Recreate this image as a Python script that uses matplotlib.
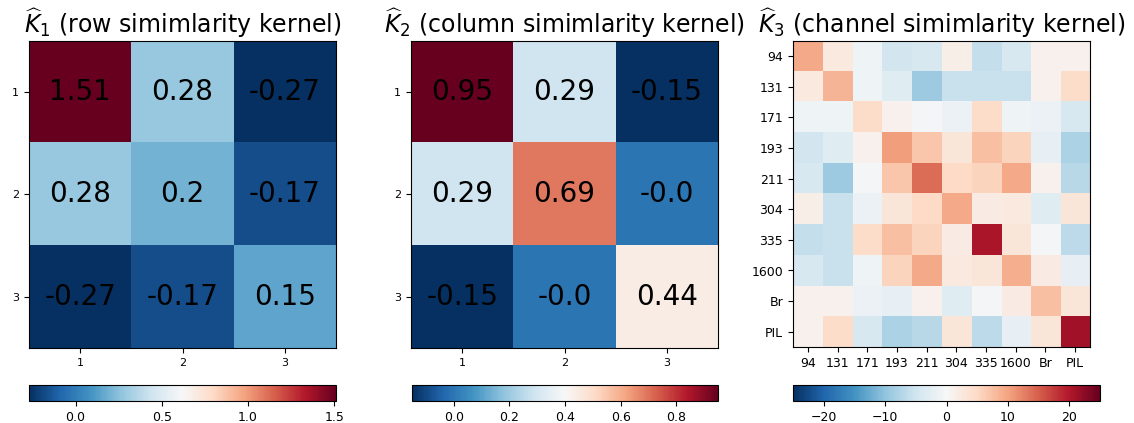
import numpy as np
import matplotlib
matplotlib.use('Agg')
import matplotlib.pyplot as plt

# kernel estimates
k1 = [[1.51, 0.28, -0.27],
      [0.28, 0.2, -0.17],
      [-0.27, -0.17, 0.15]]
k2 = [[0.95, 0.29, -0.15],
      [0.29, 0.69, -0.0],
      [-0.15, -0.0, 0.44]]
k3 = [[9.5, 2.5, -1, -4.5, -4, 1.5, -6, -4, 1, 1],
      [2.5, 8.5, -1, -3, -9, -5.5, -5.5, -5.5, 1, 4.5],
      [-1, -1, 4.5, 1, -0.5, -1.5, 4.5, -1, -1.5, -4],
      [-4.5, -3, 1, 10.5, 7, 3, 7.5, 5.5, -2, -8],
      [-4, -9, -0.5, 7, 14, 5, 5.5, 9.5, 1, -7],
      [1.5, -5.5, -1.5, 3, 5, 9.5, 2, 2.5, -3, 3],
      [-6, -5.5, 4.5, 7.5, 5.5, 2, 20.5, 3, -0.5, -6.5],
      [-4, -5.5, -1, 5.5, 9.5, 2.5, 3, 9, 2, -2],
      [1, 1, -1.5, -2, 1, -3, -0.5, 2, 7.5, 3],
      [1, 4.5, -4, -8, -7, 3, -6.5, -2, 3, 21]]
small_labels = ['1', '2', '3']
channels = ['94', '131', '171', '193', '211', '304', '335', '1600', 'Br', 'PIL']
titles = [r'$\widehat{K}_1$ (row simimlarity kernel)',
          r'$\widehat{K}_2$ (column simimlarity kernel)',
          r'$\widehat{K}_3$ (channel simimlarity kernel)']
cb_ticks = [[0.0, 0.5, 1.0, 1.5], [0.0, 0.2, 0.4, 0.6, 0.8], [-20, -10, 0, 10, 20]]

W, H = 1134, 423
fig = plt.figure(figsize=(W / 100, H / 100), dpi=100)

def box(x0, x1, y0, y1):
    return [x0 / W, 1 - y1 / H, (x1 - x0) / W, (y1 - y0) / H]

ax_pos = [box(29, 336, 41, 348), box(411, 718, 41, 348), box(793, 1090, 41, 347)]
cb_pos = [box(29, 336, 385, 401), box(412, 718, 385, 401), box(793, 1100, 385, 401)]

mats = [np.array(k1), np.array(k2), np.array(k3)]
norms = [(None, None), (None, None), (-25, 25)]
labels = [small_labels, small_labels, channels]

for i in range(3):
    ax = fig.add_axes(ax_pos[i])
    m = mats[i]
    vmin, vmax = norms[i]
    im = ax.imshow(m, cmap='RdBu_r', vmin=vmin, vmax=vmax, aspect='auto')
    n = len(labels[i])
    ax.set_xticks(range(n))
    ax.set_yticks(range(n))
    ax.set_xticklabels(labels[i], fontsize=9 if i == 2 else 8)
    ax.set_yticklabels(labels[i], fontsize=9 if i == 2 else 8)
    ax.set_title(titles[i], fontsize=17, pad=6)
    if i < 2:
        for r in range(n):
            for c in range(n):
                ax.text(c, r, str(round(m[r, c], 2)), ha='center', va='center',
                        fontsize=20, color='black')
    cax = fig.add_axes(cb_pos[i])
    cb = fig.colorbar(im, cax=cax, orientation='horizontal')
    cb.set_ticks(cb_ticks[i])
    cb.ax.tick_params(labelsize=9)

fig.savefig('out.png', dpi=100)
